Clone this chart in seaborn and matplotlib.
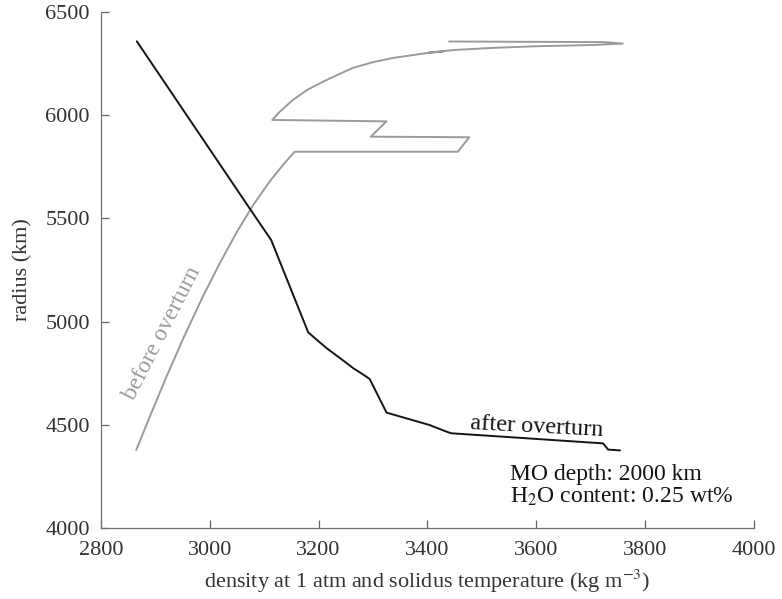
import numpy as np
import pandas as pd
import matplotlib
matplotlib.use("Agg")
import matplotlib.pyplot as plt
import seaborn as sns

# profile before overturn (grey)
before_density = [2865, 2890, 2920, 2952, 2988, 3020, 3050, 3080, 3110, 3135, 3156,
                  3456, 3477, 3296, 3325, 3115,
                  3128, 3153, 3180, 3215, 3263, 3300, 3336, 3402, 3428, 3404,
                  3450, 3520, 3600, 3704, 3759,
                  3726, 3440]
before_radius = [4378, 4540, 4730, 4922, 5125, 5290, 5435, 5565, 5678, 5760, 5823,
                 5823, 5893, 5896, 5970, 5977,
                 6015, 6074, 6124, 6171, 6229, 6257, 6277, 6302, 6308, 6304,
                 6316, 6326, 6334, 6340, 6347,
                 6354, 6357]

# profile after overturn (black)
after_density = [2866, 3074, 3113, 3181, 3198, 3215, 3240, 3264, 3280, 3294,
                 3325, 3404, 3438, 3444, 3723, 3732, 3754]
after_radius = [6358, 5546, 5395, 4948, 4909, 4871, 4822, 4774, 4747, 4722,
                4559, 4499, 4464, 4459, 4410, 4380, 4376]

x_ticks = [2800, 3000, 3200, 3400, 3600, 3800, 4000]
y_ticks = [4000, 4500, 5000, 5500, 6000, 6500]

sns.set_theme(style="ticks")
plt.rcParams["font.family"] = ["Liberation Serif", "DejaVu Serif"]
plt.rcParams["mathtext.fontset"] = "stix"

df_before = pd.DataFrame({"density": before_density, "radius": before_radius})
df_after = pd.DataFrame({"density": after_density, "radius": after_radius})

fig = plt.figure(figsize=(7.82, 5.99), dpi=100)
ax = fig.add_axes([0.129, 0.1185, 0.835, 0.8615])

sns.lineplot(data=df_before, x="density", y="radius", sort=False,
             estimator=None, color="#9a9a9a", linewidth=1.4, ax=ax)
sns.lineplot(data=df_after, x="density", y="radius", sort=False,
             estimator=None, color="#141414", linewidth=1.4, ax=ax)

ax.set_xlim(2800, 4000)
ax.set_ylim(4000, 6500)
ax.set_xticks(x_ticks)
ax.set_yticks(y_ticks)
ax.tick_params(direction="in", length=6, width=0.9, colors="#666666",
               labelcolor="#333333", labelsize=16)
ax.tick_params(axis="x", pad=9)
ax.tick_params(axis="y", pad=8)
sns.despine(ax=ax)
for side in ["left", "bottom"]:
    ax.spines[side].set_color("#707070")
    ax.spines[side].set_linewidth(0.9)

ax.set_xlabel("density at 1 atm and solidus temperature (kg m$^{-3}$)",
              fontsize=16, color="#333333", labelpad=6)
ax.set_ylabel("radius (km)", fontsize=16, color="#333333", labelpad=9)

ax.text(2912, 4945, "before overturn", rotation=63, color="#9a9a9a",
        fontsize=17, ha="center", va="center", rotation_mode="anchor")
ax.text(3601, 4488, "after overturn", rotation=-3, color="#141414",
        fontsize=17.5, ha="center", va="center", rotation_mode="anchor")
ax.text(3551, 4258, "MO depth: 2000 km", fontsize=17, color="#141414",
        ha="left", va="center")
ax.text(3551, 4150, "H$_2$O content: 0.25 wt%", fontsize=17, color="#141414",
        ha="left", va="center")

fig.savefig("out.png", dpi=100)
